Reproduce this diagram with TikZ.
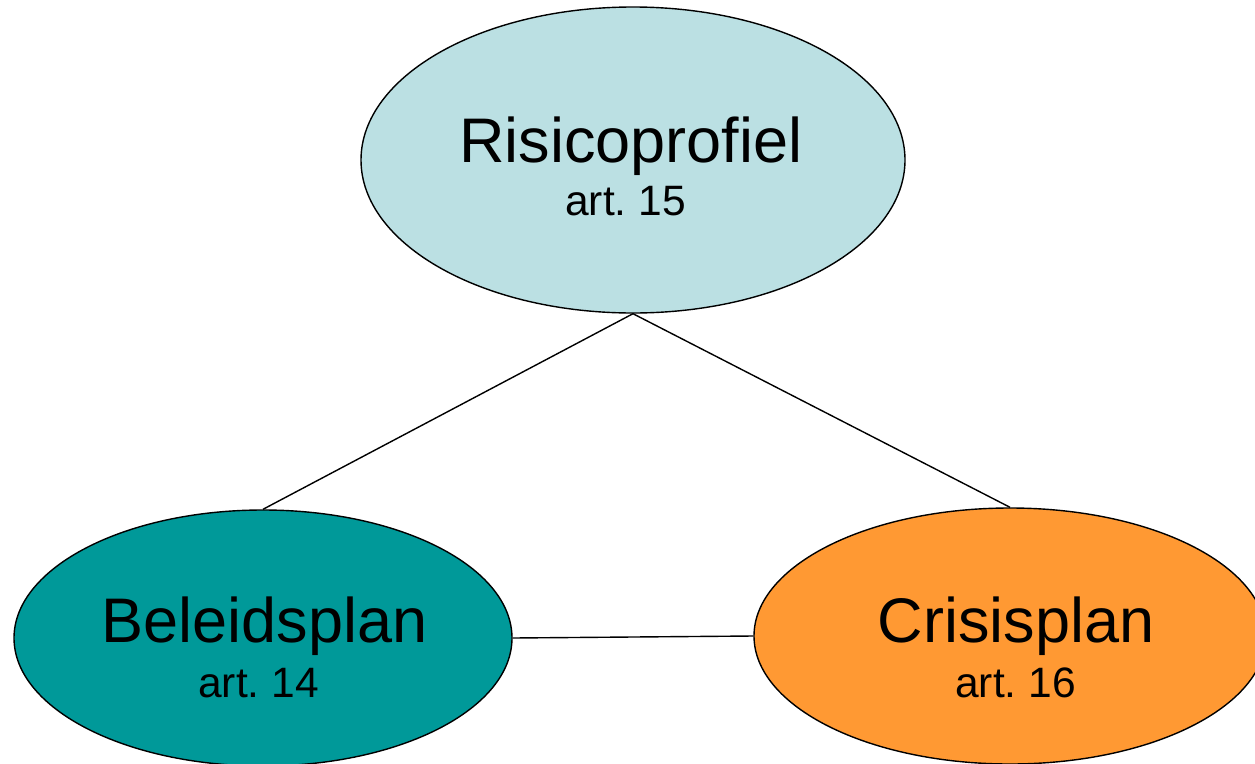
\documentclass[tikz,border=0pt]{standalone}
\usepackage{fontspec}
\setmainfont{Liberation Sans}
\usetikzlibrary{shapes.geometric}
\definecolor{riskblue}{HTML}{BBE0E3}
\definecolor{policyteal}{HTML}{009999}
\definecolor{crisisorange}{HTML}{FF9933}
\tikzset{
  oval/.style={ellipse, draw=black, line width=1.4pt, inner sep=0pt},
  title/.style={anchor=base, inner sep=0pt, font=\fontsize{63}{63}\selectfont},
  sub/.style={anchor=base, inner sep=0pt, font=\fontsize{42.5}{42.5}\selectfont},
  link/.style={draw=black, line width=1.4pt}
}
\begin{document}
\begin{tikzpicture}[x=1pt,y=-1pt]
\useasboundingbox (0,0) rectangle (1255,763);
\node[oval, fill=riskblue, minimum width=544pt, minimum height=306pt] (risk) at (633,160) {};
\node[oval, fill=policyteal, minimum width=498pt, minimum height=256pt] (policy) at (263,638) {};
\node[oval, fill=crisisorange, minimum width=512pt, minimum height=256pt] (crisis) at (1010,636) {};
\node[title] (risktitle) at (631,162) {Risicoprofiel};
\node[sub] (risksub) at (625.5,215) {art.~15};
\node[title] (policytitle) at (264.5,642) {Beleidsplan};
\node[sub] (policysub) at (258.5,697) {art.~14};
\node[title] (crisistitle) at (1016,642) {Crisisplan};
\node[sub] (crisissub) at (1015.5,697) {art.~16};
\draw[link] (risk.south) -- (policy.north);
\draw[link] (risk.south) -- (crisis.north);
\draw[link] (policy.east) -- (crisis.west);
\end{tikzpicture}
\end{document}
